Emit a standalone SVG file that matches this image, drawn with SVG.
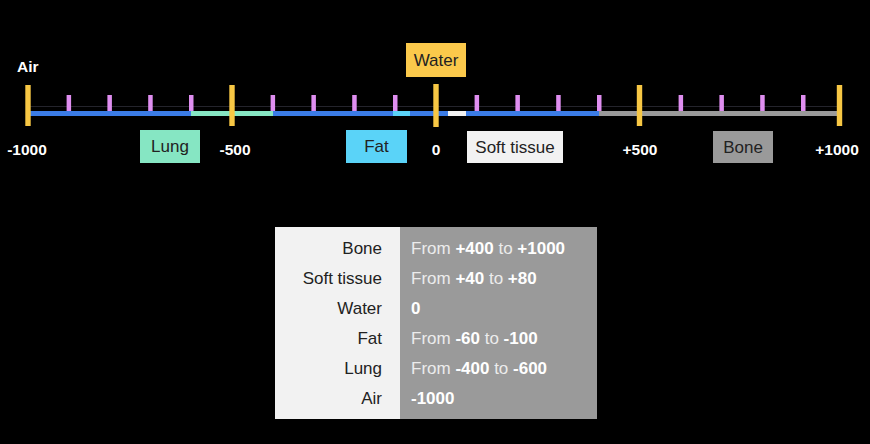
<svg xmlns="http://www.w3.org/2000/svg" width="870" height="444" viewBox="0 0 870 444">
  <style>
    .axl { font-family: "Liberation Sans", Arial, sans-serif; font-size: 15.5px; font-weight: bold; fill: #ffffff; text-anchor: middle; }
    .box { font-family: "Liberation Sans", Arial, sans-serif; font-size: 17px; fill: #222222; text-anchor: middle; }
    .maj { fill: #f7c744; }
    .min { fill: #df8ef0; }
    .tl { font-family: "Liberation Sans", Arial, sans-serif; font-size: 17px; fill: #222222; text-anchor: end; }
    .tr { font-family: "Liberation Sans", Arial, sans-serif; font-size: 17px; fill: #ececec; }
    .b { font-weight: bold; fill: #ffffff; }
  </style>
  <rect x="0" y="0" width="870" height="444" fill="#000000"/>

  <g id="connectors">
    <line x1="28" y1="106.5" x2="840" y2="106.5" stroke="#24242c" stroke-width="1"/>
    <rect x="28" y="111" width="571" height="5" fill="#3b7ce6"/>
    <rect x="191" y="111" width="82" height="5" fill="#86e6c3"/>
    <rect x="393" y="111" width="17" height="5" fill="#5ad3f8"/>
    <rect x="448" y="111" width="18" height="5" fill="#f2f2f2"/>
    <rect x="599" y="111" width="241" height="5" fill="#9a9a9a"/>
  </g>

  <g id="ticks">
    <rect class="min" x="66.6" y="95" width="4.5" height="16"/>
    <rect class="min" x="107.4" y="95" width="4.5" height="16"/>
    <rect class="min" x="148.2" y="95" width="4.5" height="16"/>
    <rect class="min" x="189" y="95" width="4.5" height="16"/>
    <rect class="min" x="270.6" y="95" width="4.5" height="16"/>
    <rect class="min" x="311.4" y="95" width="4.5" height="16"/>
    <rect class="min" x="352.2" y="95" width="4.5" height="16"/>
    <rect class="min" x="393" y="95" width="4.5" height="16"/>
    <rect class="min" x="474.6" y="95" width="4.5" height="16"/>
    <rect class="min" x="515.4" y="95" width="4.5" height="16"/>
    <rect class="min" x="556.2" y="95" width="4.5" height="16"/>
    <rect class="min" x="597" y="95" width="4.5" height="16"/>
    <rect class="min" x="678.6" y="95" width="4.5" height="16"/>
    <rect class="min" x="719.4" y="95" width="4.5" height="16"/>
    <rect class="min" x="760.2" y="95" width="4.5" height="16"/>
    <rect class="min" x="801" y="95" width="4.5" height="16"/>
    <rect class="maj" x="25.3" y="85" width="5.4" height="41"/>
    <rect class="maj" x="229.3" y="85" width="5.4" height="41"/>
    <rect class="maj" x="433.3" y="84" width="5.4" height="43"/>
    <rect class="maj" x="636.8" y="85" width="5.4" height="41"/>
    <rect class="maj" x="836.8" y="85" width="5.4" height="41"/>
  </g>

  <g id="axis-labels">
    <text class="axl" x="17" y="72" style="text-anchor:start">Air</text>
    <text class="axl" x="27" y="155">-1000</text>
    <text class="axl" x="235" y="155">-500</text>
    <text class="axl" x="436" y="155">0</text>
    <text class="axl" x="640" y="155">+500</text>
    <text class="axl" x="837" y="155">+1000</text>
  </g>

  <g id="node-water">
    <rect x="406" y="43" width="60" height="34" fill="#fbc94b"/>
    <text class="box" x="436" y="66">Water</text>
  </g>
  <g id="node-lung">
    <rect x="140" y="130" width="60" height="33" fill="#86e6c3"/>
    <text class="box" x="170" y="152">Lung</text>
  </g>
  <g id="node-fat">
    <rect x="346" y="130" width="61" height="33" fill="#5ad3f8"/>
    <text class="box" x="376.5" y="152">Fat</text>
  </g>
  <g id="node-soft-tissue">
    <rect x="467" y="131" width="96" height="32" fill="#f2f2f2"/>
    <text class="box" x="515" y="153">Soft tissue</text>
  </g>
  <g id="node-bone">
    <rect x="713" y="131" width="60" height="32" fill="#9a9a9a"/>
    <text class="box" x="743" y="153">Bone</text>
  </g>

  <g id="table">
    <rect x="275" y="227" width="125" height="192" fill="#f2f2f2"/>
    <rect x="400" y="227" width="197" height="192" fill="#9a9a9a"/>
    <text class="tl" x="382" y="254">Bone</text>
    <text class="tl" x="382" y="284">Soft tissue</text>
    <text class="tl" x="382" y="314">Water</text>
    <text class="tl" x="382" y="344">Fat</text>
    <text class="tl" x="382" y="374">Lung</text>
    <text class="tl" x="382" y="404">Air</text>
    <text class="tr" x="411" y="254">From <tspan class="b">+400</tspan> to <tspan class="b">+1000</tspan></text>
    <text class="tr" x="411" y="284">From <tspan class="b">+40</tspan> to <tspan class="b">+80</tspan></text>
    <text class="tr" x="411" y="314"><tspan class="b">0</tspan></text>
    <text class="tr" x="411" y="344">From <tspan class="b">-60</tspan> to <tspan class="b">-100</tspan></text>
    <text class="tr" x="411" y="374">From <tspan class="b">-400</tspan> to <tspan class="b">-600</tspan></text>
    <text class="tr" x="411" y="404"><tspan class="b">-1000</tspan></text>
  </g>
</svg>
